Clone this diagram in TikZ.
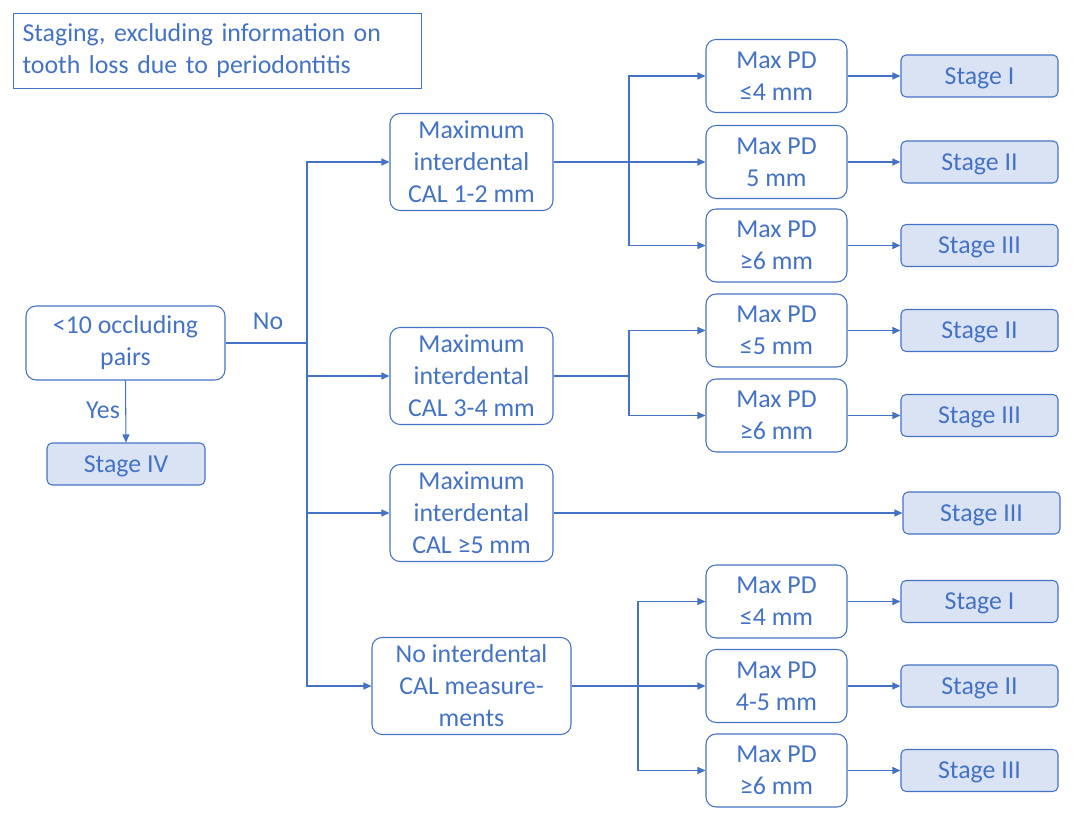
\documentclass[tikz,border=0pt]{standalone}
\usepackage{fontspec}
\setmainfont{Carlito}
\usetikzlibrary{arrows.meta}
\definecolor{boxblue}{HTML}{4472C4}
\definecolor{stagefill}{HTML}{DAE3F3}
\tikzset{
  txt/.style = {text=boxblue, font=\fontsize{14.7}{18.2}\selectfont},
  testbox/.style = {txt, draw=boxblue, line width=0.6pt, rounded corners=0.2cm, align=center, inner sep=0pt},
  stagebox/.style = {txt, draw=boxblue, fill=stagefill, line width=0.6pt, rounded corners=0.1cm, inner sep=0pt,
    text depth=0pt, minimum width=3.14cm, minimum height=0.84cm},
  pdbox/.style = {testbox, minimum width=2.82cm, minimum height=1.46cm},
  calbox/.style = {testbox, minimum width=3.26cm, minimum height=1.94cm},
  arr/.style = {draw=boxblue, line width=0.6pt, -{Triangle[length=1.6mm,width=1.4mm]}},
  ln/.style = {draw=boxblue, line width=0.6pt}
}
\begin{document}
\begin{tikzpicture}[x = 0.02cm, y = -0.02cm]
\useasboundingbox (0,0) rectangle (1080,834);
\node [txt, draw=boxblue, line width=0.6pt, anchor=north west, text width=7.8cm, align=left,
  inner xsep=0.18cm, minimum height=1.5cm] (title) at (13,13)
  {Staging, excluding information on\\tooth loss due to periodontitis};
\node [testbox, minimum width=3.98cm, minimum height=1.48cm] (occ) at (125.5,343) {<10 occluding\\pairs};
\node [stagebox, minimum width=3.16cm] (st4) at (126,464) {Stage IV};
\node [calbox] (cal12) at (471.5,162) {Maximum\\interdental\\CAL 1-2 mm};
\node [calbox] (cal34) at (471.5,376) {Maximum\\interdental\\CAL 3-4 mm};
\node [calbox] (cal5) at (471.5,513) {Maximum\\interdental\\CAL ≥5 mm};
\node [calbox, minimum width=3.98cm] (nocal) at (471.5,686) {No interdental\\CAL measure-\\ments};
% max PD boxes
\node [pdbox] (pd1) at (776.5,76) {Max PD\\≤4 mm};
\node [pdbox] (pd2) at (776.5,162) {Max PD\\5 mm};
\node [pdbox] (pd3) at (776.5,245.5) {Max PD\\≥6 mm};
\node [pdbox] (pd4) at (776.5,330.5) {Max PD\\≤5 mm};
\node [pdbox] (pd5) at (776.5,415.5) {Max PD\\≥6 mm};
\node [pdbox] (pd6) at (776.5,601.5) {Max PD\\≤4 mm};
\node [pdbox] (pd7) at (776.5,686) {Max PD\\4-5 mm};
\node [pdbox] (pd8) at (776.5,770.5) {Max PD\\≥6 mm};
% stages
\node [stagebox] (st1) at (979.5,76) {Stage I};
\node [stagebox] (st2) at (979.5,162) {Stage II};
\node [stagebox] (st3) at (979.5,245.5) {Stage III};
\node [stagebox] (st4b) at (979.5,330.5) {Stage II};
\node [stagebox] (st5) at (979.5,415.5) {Stage III};
\node [stagebox] (st6) at (981.5,513) {Stage III};
\node [stagebox] (st7) at (979.5,601.5) {Stage I};
\node [stagebox] (st8) at (979.5,686) {Stage II};
\node [stagebox] (st9) at (979.5,770.5) {Stage III};
% yes / no
\node [txt] (yes) at (103,410) {Yes};
\node [txt] (no) at (268,321) {No};
\draw [arr] (occ.south) -- (st4.north);
\coordinate (nosplit) at (307,343);
\draw [ln] (occ.east) -- (nosplit);
\draw [arr] (nosplit) |- (cal12.west);
\draw [arr] (nosplit) |- (cal34.west);
\draw [arr] (nosplit) |- (cal5.west);
\draw [arr] (nosplit) |- (nocal.west);
\coordinate (s12) at (629,162);
\draw [ln] (cal12.east) -- (s12);
\draw [arr] (s12) |- (pd1.west);
\draw [arr] (s12) -- (pd2.west);
\draw [arr] (s12) |- (pd3.west);
\coordinate (s34) at (629,376);
\draw [ln] (cal34.east) -- (s34);
\draw [arr] (s34) |- (pd4.west);
\draw [arr] (s34) |- (pd5.west);
\draw [arr] (cal5.east) -- (st6.west);
\coordinate (sno) at (638,686);
\draw [ln] (nocal.east) -- (sno);
\draw [arr] (sno) |- (pd6.west);
\draw [arr] (sno) -- (pd7.west);
\draw [arr] (sno) |- (pd8.west);
\foreach \p/\s in {pd1/st1, pd2/st2, pd3/st3, pd4/st4b, pd5/st5, pd6/st7, pd7/st8, pd8/st9}
  \draw [arr] (\p.east) -- (\s.west);
\end{tikzpicture}
\end{document}
